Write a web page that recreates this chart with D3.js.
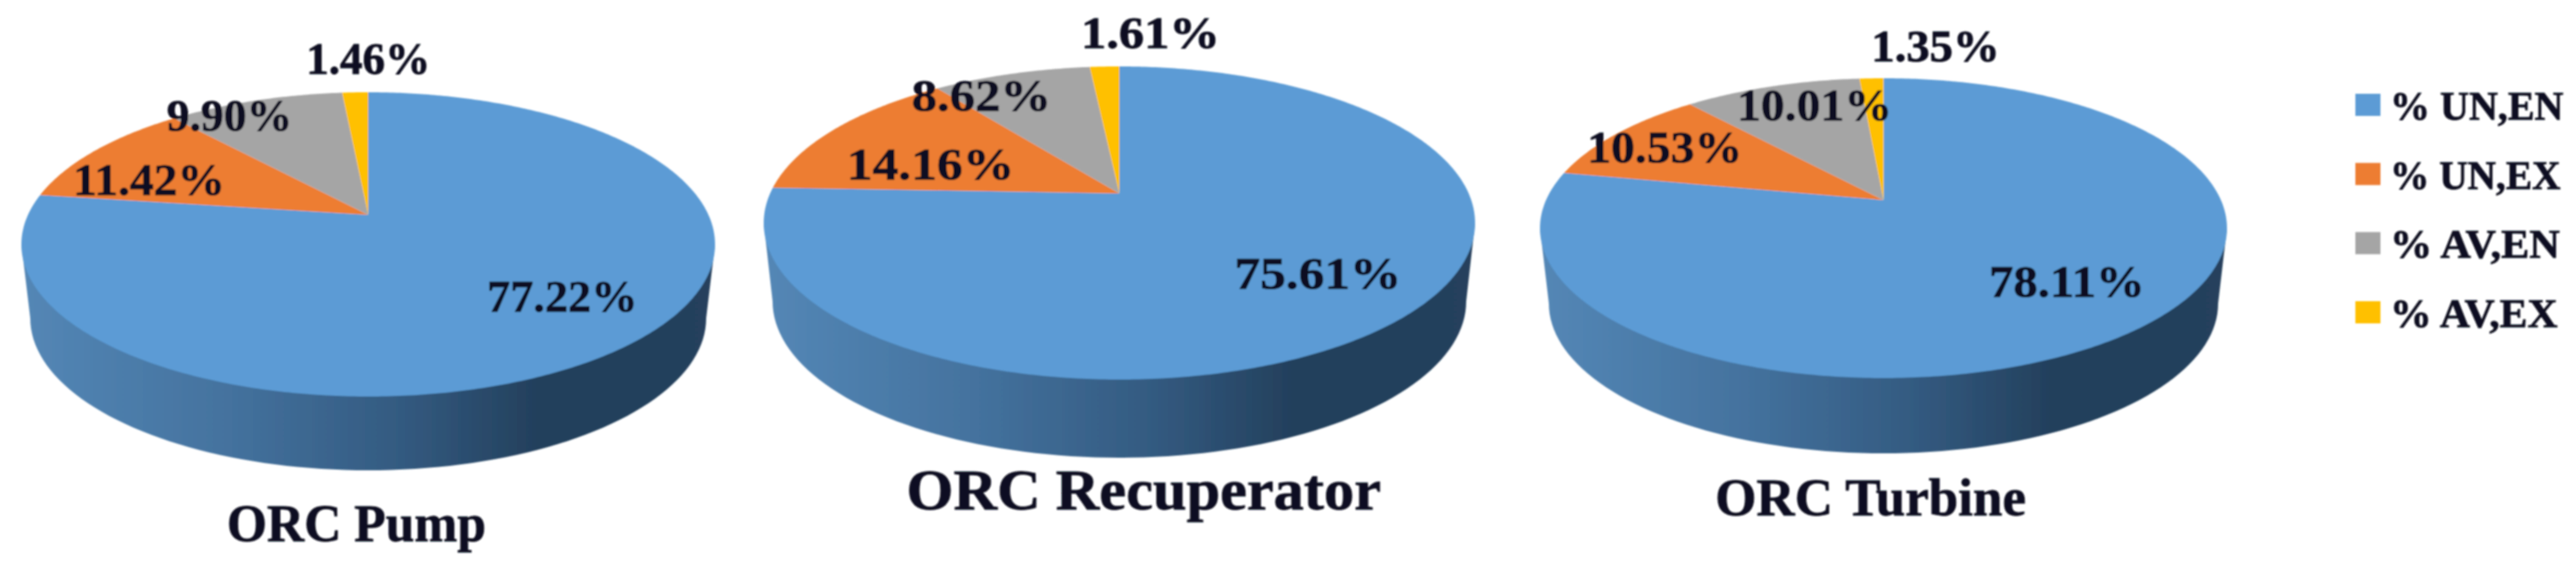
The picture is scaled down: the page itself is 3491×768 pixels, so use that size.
<!DOCTYPE html>
<html>
<head>
<meta charset="utf-8">
<script src="https://cdn.jsdelivr.net/npm/d3@7"></script>
<style>
  html, body { margin: 0; padding: 0; background: #fff; }
  svg { display: block; }
  text { font-family: "Liberation Serif", serif; font-weight: 700; fill: #0e1020; stroke: #0e1020; stroke-width: 0.9px; }
</style>
</head>
<body>
<svg id="chart" width="3491" height="768"></svg>
<script>
const segmentNames = ['% UN,EN', '% UN,EX', '% AV,EN', '% AV,EX'];
const segmentColours = ['#5B9BD5', '#ED7D31', '#A5A5A5', '#FFC000'];

const pieTitles = ['ORC Pump', 'ORC Recuperator', 'ORC Turbine'];
const pumpValues = [77.22, 11.42, 9.90, 1.46];
const recuperatorValues = [75.61, 14.16, 8.62, 1.61];
const turbineValues = [78.11, 10.53, 10.01, 1.35];
const pieValues = [pumpValues, recuperatorValues, turbineValues];

// Where each pie sits: rim extents, the apex (off centre because of the perspective), wall bottom
const pieBoxes = [
    { left: 29, right: 969, top: 125, apex: 291, rimBottom: 537, wallBottom: 637 },
    { left: 1035, right: 1999, top: 90, apex: 262, rimBottom: 514, wallBottom: 620 },
    { left: 2087, right: 3018, top: 106, apex: 271, rimBottom: 512, wallBottom: 614 }
];

// Label centres, baselines and widths, in segment order
const labelBoxes = [
    [[762, 422, 204], [202, 264, 206], [311, 177, 170], [499, 100, 168]],
    [[1786, 391, 226], [1261, 243, 227], [1330, 150, 189], [1559, 65, 188]],
    [[2801, 402, 211], [2256, 220, 210], [2459, 163, 210], [2623, 83, 174]]
];
const titleBoxes = [[483, 733, 351], [1550, 690, 643], [2535, 698, 421]];
const legendWidths = [235, 231, 230, 227];

const svg = d3.select('#chart');
const defs = svg.append('defs');

const wallGradient = defs.append('linearGradient').attr('id', 'wall');
[[0, '#5487b6'], [0.3, '#44729e'], [0.55, '#335a80'], [0.75, '#233f5b'], [1, '#25415d']]
    .forEach(([offset, colour]) => {
        wallGradient.append('stop').attr('offset', offset).attr('stop-color', colour);
    });

// The scan is soft, so everything gets a small blur
defs.append('filter').attr('id', 'soft')
    .attr('x', '-2%').attr('y', '-2%').attr('width', '104%').attr('height', '104%')
    .append('feGaussianBlur').attr('stdDeviation', 0.9);

const root = svg.append('g').attr('filter', 'url(#soft)');

const pie = d3.pie().sort(null).value(d => d);
const line = d3.line();

const drawPie = (values, box, i) => {
    const g = root.append('g').attr('id', `pie-${i}`);
    const cx = (box.left + box.right) / 2;
    const rx = (box.right - box.left) / 2;
    const ry = (box.rimBottom - box.top) / 2;
    const cy = (box.rimBottom + box.top) / 2;

    // Perspective map of the unit disc, so the disc centre lands on the apex
    const far = box.apex - box.top;
    const near = box.rimBottom - box.apex;
    const k = (near - far) / (near + far);
    const B = far * (1 + k);
    const A = rx * Math.sqrt(1 - k * k);
    const project = (a, r = 1) => {
        const u = r * Math.sin(a);
        const v = r * Math.cos(a);
        const w = 1 + k * v;
        return [cx + A * u / w, box.apex - B * v / w];
    };

    // Wall: lower half of the base ellipse, joined to the rim extremes
    const inset = 12;
    const baseY = box.wallBottom - ry;
    const wallPoints = d3.range(0, 181, 2).map((deg) => {
        const a = deg * Math.PI / 180;
        return [cx - (rx - inset) * Math.cos(a), baseY + ry * Math.sin(a)];
    });
    g.append('path')
        .attr('d', line([[box.left, cy], ...wallPoints, [box.right, cy]]) + 'Z')
        .attr('fill', 'url(#wall)');

    // Top surface
    g.selectAll('path.slice')
        .data(pie(values))
        .join('path')
        .attr('class', 'slice')
        .attr('fill', (_d, j) => segmentColours[j])
        .attr('d', (d) => {
            const steps = Math.max(2, Math.ceil((d.endAngle - d.startAngle) * 90));
            const rim = d3.range(steps + 1).map(s =>
                project(d.startAngle + (d.endAngle - d.startAngle) * s / steps));
            return line([[cx, box.apex], ...rim]) + 'Z';
        });

    // Value labels
    g.selectAll('text.value')
        .data(values)
        .join('text')
        .attr('class', 'value')
        .text(d => `${d.toFixed(2)}%`)
        .attr('x', (_d, j) => labelBoxes[i][j][0])
        .attr('y', (_d, j) => labelBoxes[i][j][1])
        .attr('textLength', (_d, j) => labelBoxes[i][j][2])
        .attr('lengthAdjust', 'spacingAndGlyphs')
        .style('text-anchor', 'middle')
        .style('font-size', '62px');

    // Title under the pie
    g.append('text')
        .text(pieTitles[i])
        .attr('x', titleBoxes[i][0])
        .attr('y', titleBoxes[i][1])
        .attr('textLength', titleBoxes[i][2])
        .attr('lengthAdjust', 'spacingAndGlyphs')
        .style('text-anchor', 'middle')
        .style('font-size', i === 1 ? '78px' : '72px');
};

pieValues.forEach((values, i) => drawPie(values, pieBoxes[i], i));

// Legend
const legendY = d3.scalePoint()
    .domain(segmentNames)
    .range([127, 408]);

const legend = root.append('g').attr('id', 'legend');
legend.selectAll('rect')
    .data(segmentNames)
    .join('rect')
    .attr('x', 3192)
    .attr('y', d => legendY(d))
    .attr('width', 34)
    .attr('height', 30)
    .attr('fill', (_d, j) => segmentColours[j]);

legend.selectAll('text')
    .data(segmentNames)
    .join('text')
    .text(d => d)
    .attr('x', 3239)
    .attr('y', d => legendY(d) + 35)
    .attr('textLength', (_d, j) => legendWidths[j])
    .attr('lengthAdjust', 'spacingAndGlyphs')
    .style('font-size', '54px');
</script>
</body>
</html>
